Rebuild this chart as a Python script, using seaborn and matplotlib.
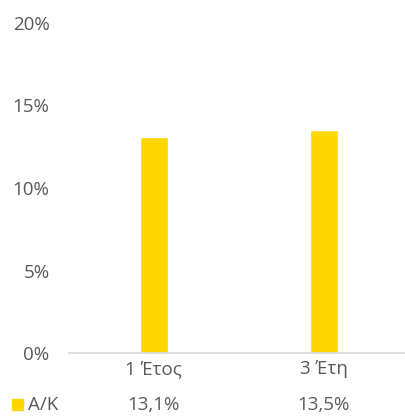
import numpy as np
import pandas as pd
import matplotlib
matplotlib.use('Agg')
import matplotlib.pyplot as plt
import seaborn as sns

categories = ['1 Έτος', '3 Έτη']
values = [13.1, 13.5]
series_name = 'Α/Κ'
value_labels = ['13,1%', '13,5%']
yticks = [0, 5, 10, 15, 20]

df = pd.DataFrame({'cat': categories, 'val': values})

sns.set_style('white')
plt.rcParams['font.family'] = ['Open Sans', 'DejaVu Sans']
grey = '#595959'
yellow = '#FFD700'
fs = 13.5

fig = plt.figure(figsize=(4.05, 4.16), dpi=100)
ax = fig.add_axes([69/405, (416-353)/416, 1 - 69/405, 330/416])

sns.barplot(data=df, x='cat', y='val', color=yellow, width=0.165,
            saturation=1, ax=ax)

ax.set_ylim(0, 20)
ax.set_xlim(-0.5, 1.48)
ax.set_yticks(yticks)
ax.set_yticklabels([f'{t}%' for t in yticks], color=grey, fontsize=fs)
ax.tick_params(axis='y', length=0, pad=14)
ax.tick_params(axis='x', length=0, pad=5, labelsize=fs, labelcolor=grey)
ax.set_xlabel('')
ax.set_ylabel('')
for s in ['top', 'right', 'left']:
    ax.spines[s].set_visible(False)
ax.spines['bottom'].set_color('#D9D9D9')
ax.spines['bottom'].set_linewidth(1.2)

# data table row
fig.patches.append(plt.Rectangle((12/405, (416-410)/416), 11/405, 11/416,
                                 transform=fig.transFigure, color=yellow))
fig.text(28/405, (416-405)/416, series_name, color=grey, fontsize=fs, va='center')
for i, lab in enumerate(value_labels):
    ax.text(i, -(405-353)/330, lab, transform=ax.get_xaxis_transform(), color=grey,
            fontsize=fs, ha='center', va='center')

fig.savefig('out.png', dpi=100)
